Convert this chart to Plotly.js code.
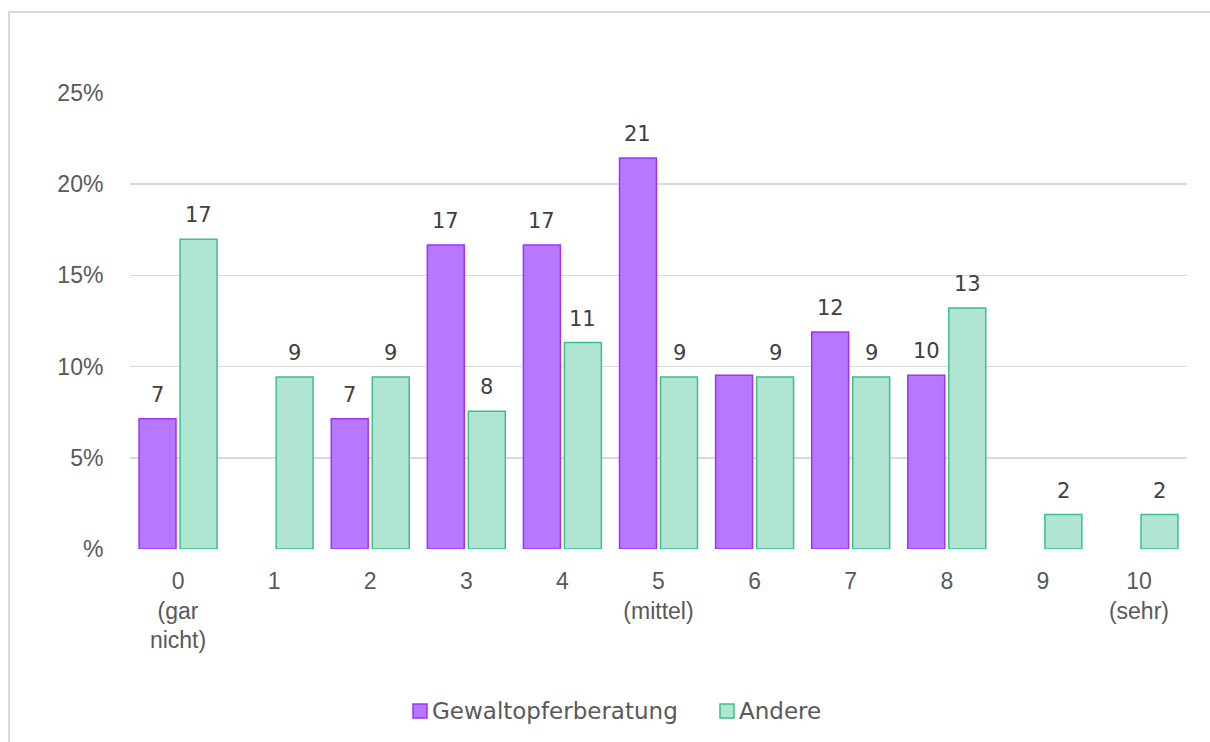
<!DOCTYPE html>
<html>
<head>
<meta charset="utf-8">
<script src="https://cdn.plot.ly/plotly-3.0.1.min.js"></script>
<style>
  html, body { margin: 0; padding: 0; background: #ffffff; overflow: hidden; }
  #frame { position: absolute; left: 8px; top: 11px; width: 1400px; height: 900px; border: 2px solid #d9d9d9; box-sizing: border-box; }
  #chart { position: absolute; left: 0; top: 0; width: 1210px; height: 742px; }
</style>
</head>
<body>
<div id="frame"></div>
<div id="chart"></div>
<script>
// ---- data ----
const categories = ['0<br>(gar<br>nicht)', '1', '2', '3', '4', '5<br>(mittel)', '6', '7', '8', '9', '10<br>(sehr)'];
const gewalt = [7.14, 0, 7.14, 16.67, 16.67, 21.43, 9.52, 11.90, 9.52, 0, 0];
const andere = [16.98, 9.43, 9.43, 7.55, 11.32, 9.43, 9.43, 9.43, 13.21, 1.89, 1.89];
const gewaltLabels = ['7', '', '7', '17', '17', '21', '', '12', '10', '', ''];
const andereLabels = ['17', '9', '9', '8', '11', '9', '9', '9', '13', '2', '2'];
const yTickVals = [0, 5, 10, 15, 20, 25];
const yTickText = ['%', '5%', '10%', '15%', '20%', '25%'];
const seriesNames = ['Gewaltopferberatung', 'Andere'];

const colors = {
  gewalt: { fill: '#b877ff', line: '#9933ff' },
  andere: { fill: '#b0e5d1', line: '#3dbf8b' }
};

const idx = categories.map((c, i) => i);
const bargap = 0.146;
const half = (1 - bargap) / 4; // offset of each bar center from category center

const traces = [
  {
    type: 'bar', name: seriesNames[0], x: idx, y: gewalt, showlegend: false,
    marker: { color: colors.gewalt.fill, line: { color: colors.gewalt.line, width: gewalt.map(v => v > 0 ? 1.5 : 0) } },
    hoverinfo: 'skip'
  },
  {
    type: 'bar', name: seriesNames[1], x: idx, y: andere, showlegend: false,
    marker: { color: colors.andere.fill, line: { color: colors.andere.line, width: andere.map(v => v > 0 ? 1.5 : 0) } },
    hoverinfo: 'skip'
  }
];

const annotations = [];
const labelFont = { family: 'DejaVu Sans, Verdana, sans-serif', size: 21, color: '#404040' };
gewalt.forEach((v, i) => {
  if (gewaltLabels[i]) annotations.push({ x: i - half, y: v, xref: 'x', yref: 'y', text: gewaltLabels[i],
    showarrow: false, yanchor: 'bottom', yshift: 10, font: labelFont });
});
andere.forEach((v, i) => {
  if (andereLabels[i]) annotations.push({ x: i + half, y: v, xref: 'x', yref: 'y', text: andereLabels[i],
    showarrow: false, yanchor: 'bottom', yshift: 10, font: labelFont });
});

// ---- custom legend (pixel layout -> paper coords) ----
const plotL = 130, plotR = 1187, plotT = 93, plotB = 549;
const px = p => (p - plotL) / (plotR - plotL);
const py = p => (plotB - p) / (plotB - plotT);
const legendFont = { family: 'DejaVu Sans, Verdana, sans-serif', size: 23, color: '#595959' };
const legendItems = [
  { name: seriesNames[0], c: colors.gewalt, sq: 413, tx: 430 },
  { name: seriesNames[1], c: colors.andere, sq: 720, tx: 737 }
];
const legendY = 711;
const shapes = [];
legendItems.forEach(it => {
  shapes.push({ type: 'rect', xref: 'paper', yref: 'paper',
    x0: px(it.sq), x1: px(it.sq + 14), y0: py(legendY + 7), y1: py(legendY - 7),
    fillcolor: it.c.fill, line: { color: it.c.line, width: 1.5 } });
  annotations.push({ xref: 'paper', yref: 'paper', x: px(it.tx), y: py(legendY), xanchor: 'left', yanchor: 'middle',
    text: it.name, showarrow: false, font: legendFont });
});

const layout = {
  width: 1210, height: 742,
  paper_bgcolor: 'rgba(0,0,0,0)', plot_bgcolor: 'rgba(0,0,0,0)',
  margin: { l: plotL, r: 1210 - plotR, t: plotT, b: 742 - plotB },
  barmode: 'group', bargap: bargap, bargroupgap: 0.1,
  showlegend: false,
  xaxis: {
    type: 'linear', range: [-0.5, 10.5], tickvals: idx, ticktext: categories,
    showgrid: false, zeroline: false, showline: false,
    ticks: 'outside', ticklen: 11, tickcolor: 'rgba(0,0,0,0)',
    tickfont: { family: 'Liberation Sans, Arial, sans-serif', size: 23, color: '#595959' }
  },
  yaxis: {
    range: [0, 25], tickvals: yTickVals, ticktext: yTickText,
    showgrid: true, gridcolor: '#d9d9d9', gridwidth: 1.5, zeroline: false, showline: false,
    ticks: 'outside', ticklen: 21, tickcolor: 'rgba(0,0,0,0)',
    tickfont: { family: 'Liberation Sans, Arial, sans-serif', size: 23, color: '#595959' }
  },
  shapes: shapes,
  annotations: annotations
};

Plotly.newPlot('chart', traces, layout, { displayModeBar: false, staticPlot: true });
</script>
</body>
</html>
